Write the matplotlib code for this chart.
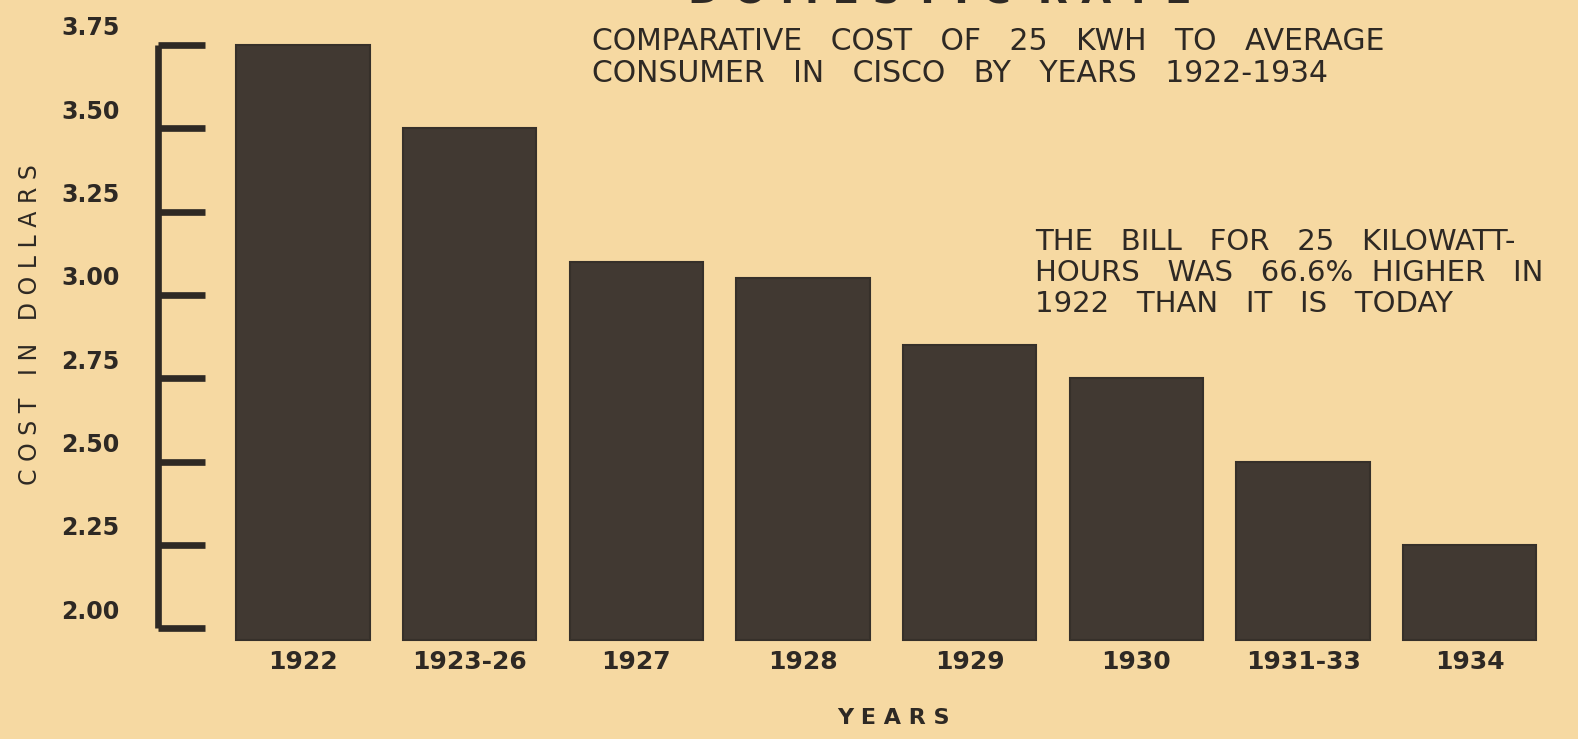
import matplotlib
matplotlib.use("Agg")
import numpy as np
import matplotlib.pyplot as plt

# data
years = ["1922", "1923-26", "1927", "1928", "1929", "1930", "1931-33", "1934"]
cost = [3.75, 3.50, 3.10, 3.05, 2.85, 2.75, 2.50, 2.25]
yticks = [2.00, 2.25, 2.50, 2.75, 3.00, 3.25, 3.50, 3.75]

paper = "#f6d9a2"
ink = "#2e2924"
barcol = "#413932"

fig = plt.figure(figsize=(15.78, 7.39), dpi=100, facecolor=paper)
ax = fig.add_axes([0, 0.12, 1, 0.88])
ax.set_facecolor(paper)

x = np.arange(len(years))
base = 1.965
ax.bar(x, np.array(cost) - base, bottom=base, width=0.8, color=barcol, edgecolor="#36302a", linewidth=1.5)

ax.set_xlim(-1.818, 7.649)
ax.set_ylim(1.934, 3.885)
ax.axis("off")

# hand drawn y axis
ax.vlines(-0.87, 2.0, 3.75, color=ink, lw=4.8)
ax.hlines(yticks, -0.87, -0.59, color=ink, lw=4.8)
for t in yticks:
    ax.text(-1.1, t + 0.05, "%.2f" % t, ha="right", va="center",
            fontsize=17, fontweight="bold", color=ink)

for i, y in enumerate(years):
    ax.text(i, 1.934, y, ha="center", va="top", fontsize=18, fontweight="bold",
            color=ink, clip_on=False)

fig.text(30 / 1578, 1 - 325 / 739, "C O S T   I N   D O L L A R S", rotation=90,
         ha="center", va="center", fontsize=17, color=ink)
fig.text(893 / 1578, 1 - 718 / 739, "Y E A R S", ha="center", va="center",
         fontsize=16, fontweight="bold", color=ink)

# title is cut off at the top edge of the scan
fig.text(940 / 1578, 1 + 8 / 739, "D O M E S T I C  R A T E", ha="center", va="center",
         fontsize=28, fontweight="bold", color=ink)

fig.text(592 / 1578, 1 - 42 / 739, "COMPARATIVE   COST   OF   25   KWH   TO   AVERAGE",
         ha="left", va="center", fontsize=21.5, color=ink)
fig.text(592 / 1578, 1 - 73 / 739, "CONSUMER   IN   CISCO   BY   YEARS   1922-1934",
         ha="left", va="center", fontsize=21.5, color=ink)

note = ["THE   BILL   FOR   25   KILOWATT-",
        "HOURS   WAS   66.6%  HIGHER   IN",
        "1922   THAN   IT   IS   TODAY"]
for k, line in enumerate(note):
    fig.text(1035 / 1578, 1 - (242 + 31 * k) / 739, line, ha="left", va="center",
             fontsize=21, color=ink)

fig.savefig("out.png", dpi=100, facecolor=paper)
